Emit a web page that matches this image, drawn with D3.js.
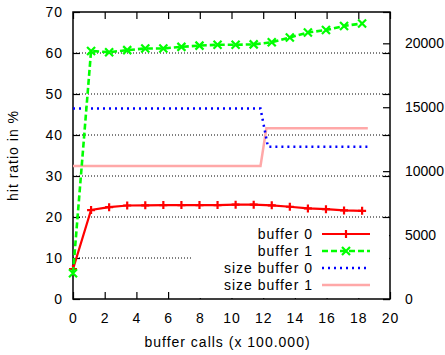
<!DOCTYPE html>
<html>
<head>
<meta charset="utf-8">
<script src="https://cdn.jsdelivr.net/npm/d3@7"></script>
<style>
  body { margin: 0; background: #fff; }
  text { font-family: "Liberation Sans", Arial, sans-serif; font-size: 14px; fill: #000; letter-spacing: 1px; }
  .y2 text { letter-spacing: 0px; }
</style>
</head>
<body>
<svg id="chart" width="445" height="355"></svg>
<script>
// calls (x 100.000) where buffers were sampled
let calls = [0, 1.14, 2.28, 3.42, 4.56, 5.7, 6.84, 7.98, 9.12, 10.26, 11.4, 12.54, 13.68, 14.82, 15.96, 17.1, 18.24]
let buffer0 = [7.3, 21.7, 22.4, 22.8, 22.85, 22.9, 22.9, 22.9, 22.9, 23.0, 23.0, 22.85, 22.5, 22.1, 21.9, 21.6, 21.5]
let buffer1 = [6.3, 60.5, 60.2, 60.7, 61.1, 61.1, 61.5, 61.8, 62.0, 62.0, 62.1, 62.6, 63.8, 65.0, 65.6, 66.6, 67.2]

// size series (right axis)
let size0X = [0, 11.83, 12.3, 18.6]
let size0 = [14900, 14900, 11900, 11900]
let size1X = [0, 11.83, 12.2, 18.6]
let size1 = [10400, 10400, 13350, 13350]

let xTicks = [0, 2, 4, 6, 8, 10, 12, 14, 16, 18, 20]
let yTicks = [0, 10, 20, 30, 40, 50, 60, 70]
let y2Ticks = [0, 5000, 10000, 15000, 20000]
let legendNames = ["buffer 0", "buffer 1", "size buffer 0", "size buffer 1"]

let svg = d3.select("#chart")
let pLeft = 73, pRight = 390, pTop = 12, pBottom = 299

let x = d3.scaleLinear().domain([0, 20]).range([pLeft, pRight])
let y = d3.scaleLinear().domain([0, 70]).range([pBottom, pTop])
let y2 = d3.scaleLinear().domain([0, 22450]).range([pBottom, pTop])

// grid
svg.append("g").selectAll("line")
  .data(yTicks.filter(d => d > 0 && d < 70))
  .enter().append("line")
  .attr("x1", pLeft).attr("x2", pRight)
  .attr("y1", d => y(d)).attr("y2", d => y(d))
  .attr("stroke", "#000").attr("stroke-width", 1)
  .attr("stroke-dasharray", "1,2")

// axes, ticks inward like gnuplot
svg.append("g").attr("transform", `translate(0,${pBottom})`)
  .call(d3.axisBottom(x).tickValues(xTicks).tickSizeInner(-7).tickSizeOuter(0).tickPadding(14))
svg.append("g").attr("transform", `translate(0,${pTop})`)
  .call(d3.axisTop(x).tickValues(xTicks).tickSizeInner(-7).tickSizeOuter(0).tickFormat(""))
svg.append("g").attr("transform", `translate(${pLeft},0)`)
  .call(d3.axisLeft(y).tickValues(yTicks).tickSizeInner(-7).tickSizeOuter(0).tickPadding(10))
svg.append("g").attr("transform", `translate(${pRight},0)`)
  .call(d3.axisRight(y).tickValues(yTicks).tickSizeInner(-7).tickSizeOuter(0).tickFormat(""))
svg.append("g").attr("class", "y2").attr("transform", `translate(${pRight},0)`)
  .call(d3.axisRight(y2).tickValues(y2Ticks).tickFormat(d3.format("d"))
    .tickSizeInner(-7).tickSizeOuter(0).tickPadding(15))

svg.selectAll(".domain").remove()
svg.selectAll(".tick line").attr("stroke", "#000").attr("stroke-width", 1.2)
svg.selectAll(".tick text").attr("font-size", null).attr("font-family", null)

// border
svg.append("rect")
  .attr("x", pLeft).attr("y", pTop)
  .attr("width", pRight - pLeft).attr("height", pBottom - pTop)
  .attr("fill", "none").attr("stroke", "#000").attr("stroke-width", 1.5)

// axis titles
svg.append("text")
  .attr("x", (pLeft + pRight) / 2 - 4).attr("y", 347)
  .attr("text-anchor", "middle")
  .text("buffer calls (x 100.000)")
svg.append("text")
  .attr("transform", `translate(18,${(pTop + pBottom) / 2}) rotate(-90)`)
  .attr("text-anchor", "middle")
  .text("hit ratio in %")

// opaque key background
svg.append("rect")
  .attr("x", 192).attr("y", 224).attr("width", pRight - 1 - 192).attr("height", pBottom - 1 - 224)
  .attr("fill", "#fff")

let line = d3.line()

let styles = [
  { color: "#ff0000", width: 2.2, dash: null, marker: "plus" },
  { color: "#00ff00", width: 2.6, dash: "6,3", marker: "cross" },
  { color: "#0000ff", width: 2.5, dash: "2,4", marker: null },
  { color: "#ffa8a8", width: 2.5, dash: null, marker: null }
]

let series = [
  calls.map((c, i) => [x(c), y(buffer0[i])]),
  calls.map((c, i) => [x(c), y(buffer1[i])]),
  size0X.map((c, i) => [x(c), y2(size0[i])]),
  size1X.map((c, i) => [x(c), y2(size1[i])])
]

function drawMarker(g, kind, px, py, color) {
  let s = 4
  let p = kind === "plus"
    ? `M${px - s},${py}L${px + s},${py}M${px},${py - s}L${px},${py + s}`
    : `M${px - s},${py - s}L${px + s},${py + s}M${px - s},${py + s}L${px + s},${py - s}`
  g.append("path").attr("d", p).attr("stroke", color).attr("stroke-width", 2.2).attr("fill", "none")
}

// draw size lines first, then buffers
;[3, 2, 0, 1].forEach(function(k) {
  let st = styles[k]
  let g = svg.append("g")
  g.append("path")
    .attr("d", line(series[k]))
    .attr("fill", "none")
    .attr("stroke", st.color)
    .attr("stroke-width", st.width)
    .attr("stroke-dasharray", st.dash)
  if (st.marker) {
    series[k].forEach(p => drawMarker(g, st.marker, p[0], p[1], st.color))
  }
})

// key
let key = svg.append("g")
legendNames.forEach(function(name, i) {
  let st = styles[i]
  let ky = 234 + i * 17
  key.append("text")
    .attr("x", 313).attr("y", ky).attr("dy", "0.35em")
    .attr("text-anchor", "end")
    .text(name)
  key.append("line")
    .attr("x1", 322).attr("x2", 370).attr("y1", ky).attr("y2", ky)
    .attr("stroke", st.color).attr("stroke-width", st.width)
    .attr("stroke-dasharray", st.dash)
  if (st.marker) drawMarker(key, st.marker, 346, ky, st.color)
})
</script>
</body>
</html>
